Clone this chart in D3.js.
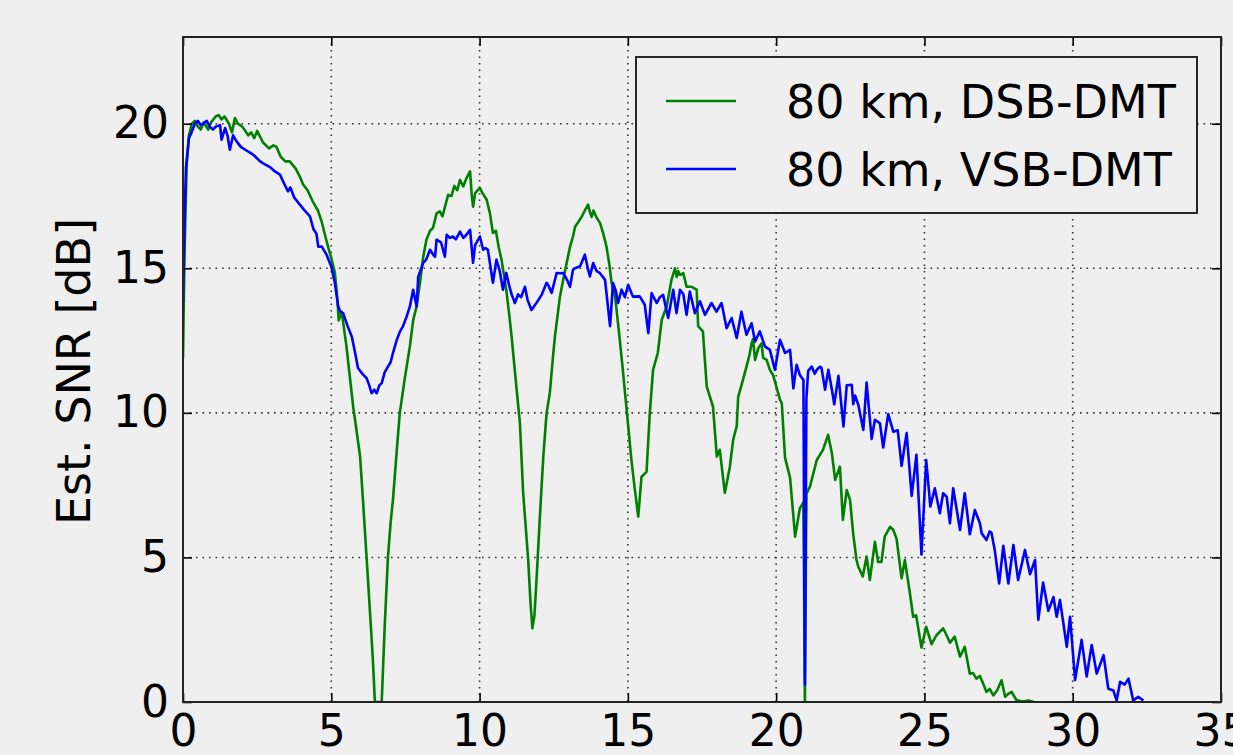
<!DOCTYPE html>
<html>
<head>
<meta charset="utf-8">
<script src="https://cdn.jsdelivr.net/npm/d3@7"></script>
<style>
  html, body { margin: 0; padding: 0; background: #efefef; }
  svg { display: block; }
  text { font-family: "DejaVu Sans", sans-serif; fill: #000; }
</style>
</head>
<body>
<svg id="chart" width="1233" height="755"></svg>
<script>
// Estimated SNR per subcarrier frequency [GHz] for 80 km transmission
const dsbFreq = [0.00,0.05,0.12,0.2,0.3,0.4,0.5,0.6,0.7,0.85,0.95,1.1,1.2,1.3,1.4,1.55,1.65,1.75,1.85,2.0,2.2,2.3,2.4,2.5,2.7,2.9,3.05,3.15,3.3,3.45,3.6,3.8,3.95,4.05,4.2,4.38,4.55,4.68,4.8,4.89,5.0,5.12,5.2,5.25,5.35,5.5,5.62,5.74,5.85,5.97,6.08,6.19,6.3,6.4,6.47,6.7,6.8,6.91,7.0,7.08,7.2,7.31,7.48,7.65,7.76,7.88,7.99,8.1,8.21,8.33,8.43,8.55,8.66,8.75,8.94,9.05,9.15,9.25,9.34,9.45,9.55,9.68,9.73,9.78,9.85,10.01,10.1,10.24,10.35,10.45,10.55,10.65,10.74,10.9,11.0,11.08,11.25,11.36,11.47,11.56,11.64,11.72,11.78,11.85,11.92,12.04,12.15,12.26,12.37,12.48,12.54,12.71,12.82,12.94,13.05,13.15,13.22,13.33,13.44,13.55,13.66,13.72,13.78,13.84,13.95,14.06,14.17,14.28,14.38,14.45,14.57,14.62,14.73,14.8,14.96,15.12,15.23,15.35,15.46,15.63,15.74,15.85,16.01,16.14,16.31,16.47,16.59,16.65,16.7,16.76,16.87,16.98,17.15,17.32,17.37,17.53,17.66,17.87,18.0,18.1,18.27,18.44,18.55,18.67,18.72,18.88,19.0,19.1,19.17,19.22,19.29,19.4,19.51,19.56,19.68,19.79,19.9,20.02,20.13,20.19,20.3,20.47,20.64,20.8,20.92,20.97,21.02,21.14,21.37,21.58,21.75,21.88,21.99,22.15,22.25,22.38,22.49,22.6,22.71,22.77,22.92,23.05,23.16,23.33,23.44,23.55,23.66,23.84,23.95,24.06,24.23,24.34,24.51,24.62,24.72,24.9,25.06,25.18,25.24,25.4,25.63,25.75,25.86,26.02,26.2,26.36,26.53,26.64,26.75,26.87,26.98,27.09,27.2,27.32,27.45,27.6,27.72,27.85,27.94,28.1,28.3,28.5,28.7];
const dsbSnr = [11.9,15.5,18.5,19.6,20.0,20.1,19.9,19.8,20.05,19.8,20.05,20.25,20.3,20.15,20.25,20.0,19.7,20.2,20.0,19.9,19.6,19.7,19.5,19.75,19.35,19.15,19.25,19.2,18.85,18.7,18.7,18.45,18.15,17.9,17.7,17.3,17.0,16.6,16.1,15.75,15.35,14.85,14.0,13.2,13.5,12.4,11.3,10.2,9.4,8.5,6.8,5.0,3.2,1.5,0.0,0.0,2.6,5.0,6.2,7.0,8.6,10.0,11.2,12.3,13.2,13.7,14.5,15.4,16.0,16.3,16.4,16.9,16.97,16.8,17.54,17.5,17.85,17.7,18.06,17.83,18.1,18.35,17.6,17.13,17.6,17.78,17.6,17.37,16.9,16.22,16.3,15.7,15.3,14.26,13.4,12.64,10.8,9.65,7.23,6.0,4.91,3.4,2.55,3.0,4.22,6.53,8.5,10.0,10.7,12.0,12.64,14.02,14.6,15.2,15.75,16.1,16.44,16.6,16.78,17.0,17.2,16.95,16.78,17.0,16.75,16.57,16.2,15.75,15.1,14.5,14.0,13.56,12.5,11.8,10.1,8.37,7.4,6.41,7.79,7.96,10.0,11.49,12.07,13.21,13.68,14.6,15.0,14.7,14.9,14.77,14.83,14.36,14.36,14.26,13.0,12.82,10.91,10.22,8.49,8.72,7.23,8.14,9.07,9.53,10.55,11.14,11.6,12.0,12.4,12.55,11.83,12.24,12.4,11.9,11.83,11.49,11.3,10.86,10.45,10.34,8.45,7.75,5.72,6.7,6.9,0.0,7.2,7.45,8.37,8.72,9.24,8.6,7.68,8.14,6.3,7.33,7.0,5.8,4.91,4.68,4.34,5.03,4.22,5.54,4.84,4.84,5.72,6.06,5.95,5.65,4.28,4.91,3.76,2.95,3.0,1.88,2.6,2.2,2.0,2.3,2.55,2.3,2.05,2.26,1.57,1.91,0.98,1.0,0.81,0.9,0.64,0.35,0.45,0.23,0.4,0.75,0.18,0.3,0.35,0.07,0.02,0.05,0.0];

const vsbFreq = [0.00,0.05,0.1,0.2,0.29,0.4,0.5,0.6,0.68,0.8,0.9,1.01,1.1,1.25,1.3,1.42,1.5,1.58,1.69,1.8,1.95,2.1,2.26,2.4,2.6,2.75,2.93,3.1,3.27,3.4,3.54,3.62,3.75,3.94,4.1,4.28,4.4,4.5,4.56,4.68,4.84,5.0,5.12,5.23,5.3,5.4,5.55,5.69,5.8,5.9,6.05,6.19,6.28,6.36,6.45,6.53,6.62,6.7,6.8,6.91,7.0,7.08,7.2,7.31,7.42,7.54,7.65,7.76,7.88,7.93,8.1,8.2,8.33,8.45,8.5,8.55,8.7,8.83,8.89,9.0,9.1,9.2,9.34,9.45,9.55,9.68,9.78,9.85,10.01,10.12,10.2,10.28,10.45,10.57,10.68,10.79,10.9,11.0,11.08,11.19,11.3,11.4,11.53,11.62,11.75,11.85,11.98,12.1,12.26,12.31,12.43,12.6,12.71,12.82,12.95,13.05,13.15,13.22,13.39,13.55,13.65,13.72,13.83,13.95,14.06,14.16,14.23,14.4,14.5,14.6,14.67,14.79,14.9,15.01,15.17,15.4,15.57,15.69,15.8,15.97,16.08,16.19,16.36,16.53,16.64,16.76,16.87,16.98,17.09,17.26,17.43,17.6,17.82,17.99,18.16,18.33,18.5,18.67,18.83,19.0,19.17,19.29,19.45,19.62,19.79,19.9,19.96,20.13,20.3,20.47,20.58,20.69,20.8,20.92,20.97,21.02,21.08,21.2,21.3,21.37,21.48,21.53,21.65,21.76,21.88,21.96,22.1,22.27,22.38,22.55,22.6,22.66,22.77,22.94,23.05,23.22,23.33,23.5,23.61,23.78,23.95,24.1,24.23,24.4,24.57,24.73,24.9,25.06,25.2,25.35,25.52,25.63,25.75,25.86,25.97,26.2,26.36,26.53,26.7,26.87,26.93,27.09,27.2,27.26,27.37,27.52,27.66,27.83,28.0,28.16,28.39,28.56,28.73,28.84,29.0,29.18,29.35,29.46,29.57,29.8,29.91,30.08,30.3,30.47,30.64,30.81,31.04,31.2,31.37,31.48,31.6,31.75,31.88,32.04,32.21,32.38];
const vsbSnr = [13.8,16.5,18.5,19.5,19.7,20.0,20.1,19.95,20.0,20.1,19.9,19.8,19.9,19.95,19.45,19.85,19.6,19.1,19.6,19.4,19.2,19.1,19.0,18.9,18.7,18.6,18.5,18.35,18.24,17.95,17.66,17.8,17.45,17.2,17.0,16.8,16.35,16.2,15.75,15.75,15.47,15.06,14.5,13.7,13.5,13.45,13.0,12.64,12.1,11.55,11.35,11.2,10.95,10.68,10.8,10.68,10.95,11.03,11.4,11.6,11.75,12.07,12.5,12.8,13.0,13.33,13.68,14.26,13.68,14.7,15.19,15.3,15.64,15.45,15.4,15.99,15.9,15.4,16.16,16.05,16.1,16.0,16.27,16.05,16.15,16.33,15.19,15.8,16.1,15.64,15.7,15.64,14.5,15.3,14.9,14.26,14.84,14.4,14.1,13.8,14.1,14.0,14.36,13.9,13.56,13.7,13.9,14.1,14.5,14.43,14.15,14.84,14.83,14.84,14.6,14.36,14.95,15.0,15.07,15.47,15.0,14.72,15.18,14.9,14.83,14.7,14.6,13.0,14.49,14.2,13.8,14.26,14.0,14.43,14.02,14.03,13.74,12.76,14.14,13.8,14.0,14.08,13.28,14.26,13.45,14.26,14.1,13.39,14.2,13.45,13.86,13.39,13.8,13.5,13.8,12.93,13.28,12.59,13.5,12.7,13.1,12.47,12.82,12.3,12.18,11.72,11.49,12.53,12.07,12.18,10.85,11.66,11.31,11.14,0.6,10.5,11.45,11.6,11.35,11.49,11.6,11.55,10.8,11.49,10.8,10.3,11.28,9.53,10.95,10.97,10.3,10.6,10.28,9.41,11.05,9.1,9.76,9.64,8.8,9.96,9.35,9.4,8.17,9.3,7.13,8.55,5.1,8.37,6.76,7.39,6.53,7.22,7.1,6.18,7.39,5.95,7.22,5.8,6.64,6.18,5.84,5.6,5.9,5.85,5.26,4.1,5.4,4.1,5.43,4.22,5.26,4.42,4.91,2.84,4.13,3.15,3.63,2.95,3.53,1.91,2.95,0.76,2.15,0.88,1.97,0.98,1.62,0.46,0.4,0.05,0.7,0.6,0.81,0.05,0.18,0.05];

const xTicks = [0, 5, 10, 15, 20, 25, 30, 35];
const yTicks = [0, 5, 10, 15, 20];
const seriesNames = ["80 km, DSB-DMT", "80 km, VSB-DMT"];
const seriesColors = ["#008000", "#0000ff"];

const svg = d3.select("#chart");
const W = 1233, H = 755;
const plot = { left: 183, right: 1221, top: 37, bottom: 702 };

svg.append("rect").attr("width", W).attr("height", H).attr("fill", "#efefef");

const x = d3.scaleLinear().domain([0, 35]).range([plot.left, plot.right]);
const y = d3.scaleLinear().domain([0, 23]).range([plot.bottom, plot.top]);

// dotted grid
const grid = svg.append("g");
grid.selectAll("line.gx").data(xTicks.filter(t => t > 0 && t < 35)).join("line")
  .attr("x1", d => x(d)).attr("x2", d => x(d))
  .attr("y1", plot.top).attr("y2", plot.bottom)
  .attr("stroke", "#333").attr("stroke-width", 1.6).attr("stroke-dasharray", "1.6,4.9");
grid.selectAll("line.gy").data(yTicks.filter(t => t > 0)).join("line")
  .attr("y1", d => y(d)).attr("y2", d => y(d))
  .attr("x1", plot.left).attr("x2", plot.right)
  .attr("stroke", "#333").attr("stroke-width", 1.6).attr("stroke-dasharray", "1.6,4.9");

// clip for the traces
svg.append("clipPath").attr("id", "clip").append("rect")
  .attr("x", plot.left).attr("y", plot.top)
  .attr("width", plot.right - plot.left).attr("height", plot.bottom - plot.top);

const line = d3.line().x(d => x(d[0])).y(d => y(d[1]));
const traces = [
  d3.zip(dsbFreq, dsbSnr),
  d3.zip(vsbFreq, vsbSnr)
];
const lines = svg.append("g").attr("clip-path", "url(#clip)");
traces.forEach((pts, i) => {
  lines.append("path").datum(pts)
    .attr("d", line)
    .attr("fill", "none")
    .attr("stroke", seriesColors[i])
    .attr("stroke-width", 2.6)
    .attr("stroke-linejoin", "round");
});

// axes with inward ticks on all four sides
const tickLen = 9;
const fs = 44;
const xAxisB = d3.axisBottom(x).tickValues(xTicks).tickSize(-tickLen).tickPadding(13).tickFormat(d3.format("d"));
const xAxisT = d3.axisTop(x).tickValues(xTicks).tickSize(-tickLen).tickFormat("");
const yAxisL = d3.axisLeft(y).tickValues(yTicks).tickSize(-tickLen).tickPadding(14).tickFormat(d3.format("d"));
const yAxisR = d3.axisRight(y).tickValues(yTicks).tickSize(-tickLen).tickFormat("");

function styleAxis(g) {
  g.select(".domain").remove();
  g.selectAll(".tick line").attr("stroke", "#000").attr("stroke-width", 1.6);
  g.selectAll(".tick text").attr("font-size", fs).attr("font-family", "DejaVu Sans").attr("fill", "#000");
}
svg.append("g").attr("transform", `translate(0,${plot.bottom})`).call(xAxisB).call(styleAxis);
svg.append("g").attr("transform", `translate(0,${plot.top})`).call(xAxisT).call(styleAxis);
svg.append("g").attr("transform", `translate(${plot.left},0)`).call(yAxisL).call(styleAxis);
svg.append("g").attr("transform", `translate(${plot.right},0)`).call(yAxisR).call(styleAxis);

// frame
svg.append("rect")
  .attr("x", plot.left).attr("y", plot.top)
  .attr("width", plot.right - plot.left).attr("height", plot.bottom - plot.top)
  .attr("fill", "none").attr("stroke", "#222").attr("stroke-width", 2);

// y axis label
svg.append("text")
  .attr("transform", `translate(90,${(plot.top + plot.bottom) / 2 + 2}) rotate(-90)`)
  .attr("text-anchor", "middle")
  .attr("font-size", fs + 2)
  .text("Est. SNR [dB]");

// legend
const lg = svg.append("g");
lg.append("rect")
  .attr("x", 636).attr("y", 57).attr("width", 561).attr("height", 156)
  .attr("fill", "#efefef").attr("stroke", "#111").attr("stroke-width", 1.8);
seriesNames.forEach((name, i) => {
  const cy = 101 + i * 68;
  lg.append("line").attr("x1", 666).attr("x2", 736).attr("y1", cy).attr("y2", cy)
    .attr("stroke", seriesColors[i]).attr("stroke-width", 2.6);
  lg.append("text").attr("x", 786).attr("y", cy).attr("dy", "0.36em")
    .attr("font-size", fs + 2).text(name);
});
</script>
</body>
</html>
